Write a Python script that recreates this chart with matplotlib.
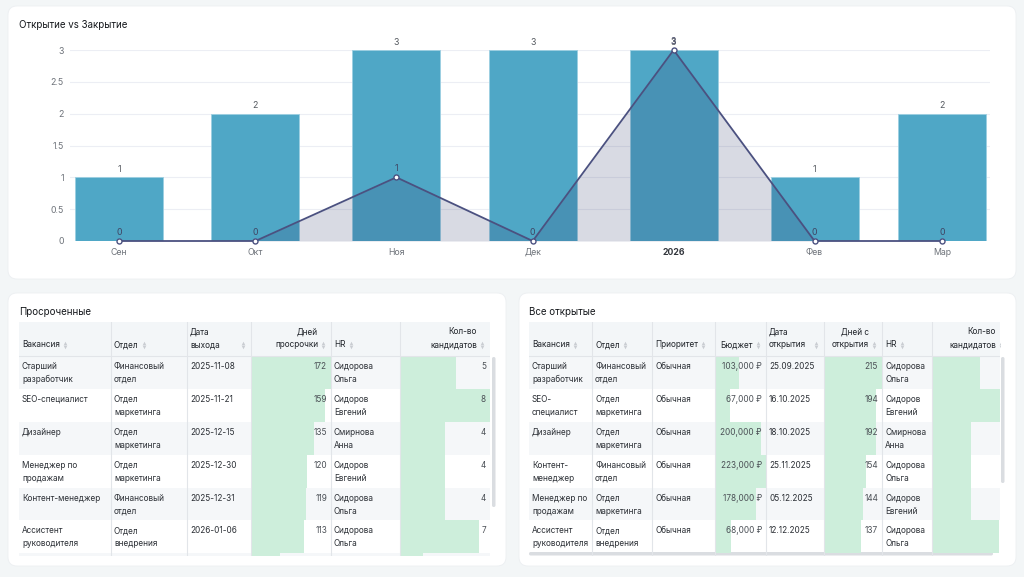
import numpy as np
import matplotlib
matplotlib.use('Agg')
import matplotlib.pyplot as plt
import matplotlib.dates as mdates
from matplotlib.patches import FancyBboxPatch, Rectangle
import pandas as pd

plt.rcParams['font.family'] = ['Inter', 'DejaVu Sans']

# --- chart data ---
months = ['Сен', 'Окт', 'Ноя', 'Дек', '2026', 'Фев', 'Мар']
month_starts = ['2025-09-01', '2025-10-01', '2025-11-01', '2025-12-01',
                '2026-01-01', '2026-02-01', '2026-03-01']
opened = [1, 2, 3, 3, 3, 1, 2]
closed = [0, 0, 1, 0, 3, 0, 0]

# --- overdue table ---
od_vacancy = ['Старший\nразработчик', 'SEO-специалист', 'Дизайнер', 'Менеджер по\nпродажам',
              'Контент-менеджер', 'Ассистент\nруководителя', '']
od_dept = ['Финансовый\nотдел', 'Отдел\nмаркетинга', 'Отдел\nмаркетинга', 'Отдел\nмаркетинга',
           'Финансовый\nотдел', 'Отдел\nвнедрения', '']
od_date = ['2025-11-08', '2025-11-21', '2025-12-15', '2025-12-30', '2025-12-31', '2026-01-06', '']
od_days = [172, 159, 135, 120, 119, 113, 62]
od_hr = ['Сидорова\nОльга', 'Сидоров\nЕвгений', 'Смирнова\nАнна', 'Сидоров\nЕвгений',
         'Сидорова\nОльга', 'Сидорова\nОльга', '']
od_cand = [5, 8, 4, 4, 4, 7, 2]

# --- open table ---
op_vacancy = ['Старший\nразработчик', 'SEO-\nспециалист', 'Дизайнер', 'Контент-\nменеджер',
              'Менеджер по\nпродажам', 'Ассистент\nруководителя']
op_dept = ['Финансовый\nотдел', 'Отдел\nмаркетинга', 'Отдел\nмаркетинга', 'Финансовый\nотдел',
           'Отдел\nмаркетинга', 'Отдел\nвнедрения']
op_prio = ['Обычная'] * 6
op_budget = [103000, 67000, 200000, 223000, 178000, 68000]
op_date = ['25.09.2025', '16.10.2025', '18.10.2025', '25.11.2025', '05.12.2025', '12.12.2025']
op_days = [215, 194, 192, 154, 144, 137]
op_hr = ['Сидорова\nОльга', 'Сидоров\nЕвгений', 'Смирнова\nАнна', 'Сидорова\nОльга',
         'Сидоров\nЕвгений', 'Сидорова\nОльга']
op_cand = [5, 8, 4, 4, 4, 7]

W, H = 1024, 577
fig = plt.figure(figsize=(W / 100, H / 100), dpi=100, facecolor='#f3f6f7')
bg = fig.add_axes([0, 0, 1, 1])
bg.set_xlim(0, W)
bg.set_ylim(H, 0)
bg.axis('off')

TXT = '#2b2f35'
HEAD_TXT = '#1f2329'
GREY_TXT = '#6e737a'
GREEN = '#cdeedb'
ROW_BG = '#f5f7f9'
HEAD_BG = '#f3f6f8'
LINE = '#e2e5e9'
FS = 5.9  # table font size


def card(x0, y0, x1, y1):
    bg.add_patch(FancyBboxPatch((x0, y0), x1 - x0, y1 - y0,
                                boxstyle='round,pad=0,rounding_size=9',
                                fc='white', ec='#eceff1', lw=0.6))


card(8, 6, 1016, 279)
card(8, 293, 506, 566)
card(519, 293, 1016, 566)

for tx, ty, s in [(19, 25, 'Открытие vs Закрытие'), (19, 312, 'Просроченные'),
                  (529, 312, 'Все открытые')]:
    bg.text(tx, ty, s, fontsize=7.0, color='#15181c', va='center')

# ---------------- chart ----------------
ax = fig.add_axes([70 / W, 1 - 241 / H, 920 / W, 191 / H])
x = mdates.date2num(pd.to_datetime(month_starts))
bars = ax.bar(x, opened, width=19.35, color='#4fa7c6', edgecolor='#9ccfe1',
              linewidth=0.6, zorder=2)
ax.fill_between(x, closed, 0, color='#2c3568', alpha=0.18, lw=0, zorder=3)
ax.plot(x, closed, color='#4b5180', lw=1.3, marker='o', ms=3.6, mfc='white',
        mec='#4b5180', mew=1, zorder=4, clip_on=False)
ax.set_ylim(0, 3)
ax.set_xlim(x[0] - 10.8, x[-1] + 10.6)
ax.set_yticks(np.arange(0, 3.01, 0.5))
ax.set_yticklabels(['0', '0.5', '1', '1.5', '2', '2.5', '3'])
ax.set_xticks(x)
ax.set_xticklabels(months)
ax.grid(axis='y', color='#eceef4', lw=0.8)
ax.set_axisbelow(True)
for s in ax.spines.values():
    s.set_visible(False)
ax.tick_params(axis='both', length=0, labelsize=6.3, colors=GREY_TXT)
ax.tick_params(axis='x', pad=4.8)
ax.tick_params(axis='y', pad=4.5)
for lbl in ax.get_xticklabels():
    if lbl.get_text() == '2026':
        lbl.set_fontweight('bold')
        lbl.set_color('#33373d')
ax.bar_label(bars, padding=2.5, fontsize=6.3, color='#555a60')
for xi, v in zip(x, closed):
    ax.annotate(str(v), (xi, v), xytext=(0, 3), textcoords='offset points',
                ha='center', va='bottom', fontsize=6.3, color='#3f4463',
                annotation_clip=False, zorder=5)

# ---------------- tables ----------------
HEAD_TOP, HEAD_BOT = 322, 356
ROW_H = 32.9
TAB_BOT = 556


def sort_icon(t, xc, yc):
    t.plot([xc], [yc - 2.3], marker='^', ms=2.6, color='#c9cdd2', mew=0, clip_on=True)
    t.plot([xc], [yc + 2.3], marker='v', ms=2.6, color='#c9cdd2', mew=0, clip_on=True)


def draw_table(vx0, vx1, edges, heads, cols, n_rows):
    t = fig.add_axes([vx0 / W, 1 - TAB_BOT / H, (vx1 - vx0) / W, (TAB_BOT - HEAD_TOP) / H])
    t.set_xlim(vx0, vx1)
    t.set_ylim(TAB_BOT, HEAD_TOP)
    t.axis('off')
    t.add_patch(Rectangle((vx0, HEAD_TOP), edges[-1] - vx0, HEAD_BOT - HEAD_TOP,
                          fc=HEAD_BG, lw=0))
    for i in range(n_rows):
        top = HEAD_BOT + i * ROW_H
        if i % 2 == 0:
            t.add_patch(Rectangle((vx0, top), edges[-1] - vx0, ROW_H, fc=ROW_BG, lw=0))
        for c, (vals, kind, fmt) in enumerate(cols):
            left, right = edges[c], edges[c + 1]
            v = vals[i]
            if kind == 'bar':
                frac = v / max(vals)
                t.add_patch(Rectangle((left, top), frac * (right - left), ROW_H,
                                      fc=GREEN, lw=0))
                t.text(right - 4, top + 10.5, fmt(v), ha='right', va='center',
                       fontsize=FS, color='#4a4f55', clip_on=True)
            else:
                for k, line in enumerate(str(v).split('\n')):
                    t.text(left + 3, top + 10.5 + 13 * k, line, ha='left', va='center',
                           fontsize=FS, color=TXT, clip_on=True)
    for e in edges[1:-1]:
        t.plot([e, e], [HEAD_TOP, TAB_BOT], color=LINE, lw=0.8)
    t.plot([vx0, edges[-1]], [HEAD_BOT, HEAD_BOT], color=LINE, lw=0.8)

    r = fig.canvas.get_renderer()
    inv = t.transData.inverted()
    for c, (head, (vals, kind, fmt)) in enumerate(zip(heads, cols)):
        left, right = edges[c], edges[c + 1]
        lines = head.split('\n')
        ys = [345] if len(lines) == 1 else [332, 345]
        if kind == 'bar':
            for line, y in zip(lines, ys):
                t.text(right - 13, y, line, ha='right', va='center', fontsize=FS,
                       color=HEAD_TXT, clip_on=True)
            sort_icon(t, right - 8, 345)
        else:
            last = None
            for line, y in zip(lines, ys):
                last = t.text(left + 3, y, line, ha='left', va='center', fontsize=FS,
                              color=HEAD_TXT, clip_on=True)
            if len(lines) == 1:
                bb = last.get_window_extent(r)
                xe = inv.transform((bb.x1, bb.y0))[0]
                sort_icon(t, xe + 5, 345)
            else:
                sort_icon(t, right - 8, 345)
    return t


draw_table(19, 490, [19, 111, 187, 251, 331, 400, 490],
           ['Вакансия', 'Отдел', 'Дата\nвыхода', 'Дней\nпросрочки', 'HR', 'Кол-во\nкандидатов'],
           [(od_vacancy, 'text', str), (od_dept, 'text', str), (od_date, 'text', str),
            (od_days, 'bar', str), (od_hr, 'text', str), (od_cand, 'bar', str)],
           len(od_days))

draw_table(529, 1000, [529, 592, 652, 715, 766, 824, 882, 932, 1009],
           ['Вакансия', 'Отдел', 'Приоритет', 'Бюджет', 'Дата\nоткрытия', 'Дней с\nоткрытия',
            'HR', 'Кол-во\nкандидатов'],
           [(op_vacancy, 'text', str), (op_dept, 'text', str), (op_prio, 'text', str),
            (op_budget, 'bar', lambda v: f'{v:,} ₽'), (op_date, 'text', str),
            (op_days, 'bar', str), (op_hr, 'text', str), (op_cand, 'bar', str)],
           len(op_days))

# scrollbars
for (sx, sy, sw, sh) in [(492, 357, 3.5, 150), (1001, 357, 3.5, 126), (529, 552, 464, 3.5)]:
    bg.add_patch(FancyBboxPatch((sx, sy), sw, sh, boxstyle='round,pad=0,rounding_size=1.7',
                                fc='#dadde1', lw=0, zorder=10))

fig.savefig('out.png', dpi=100, facecolor=fig.get_facecolor())
